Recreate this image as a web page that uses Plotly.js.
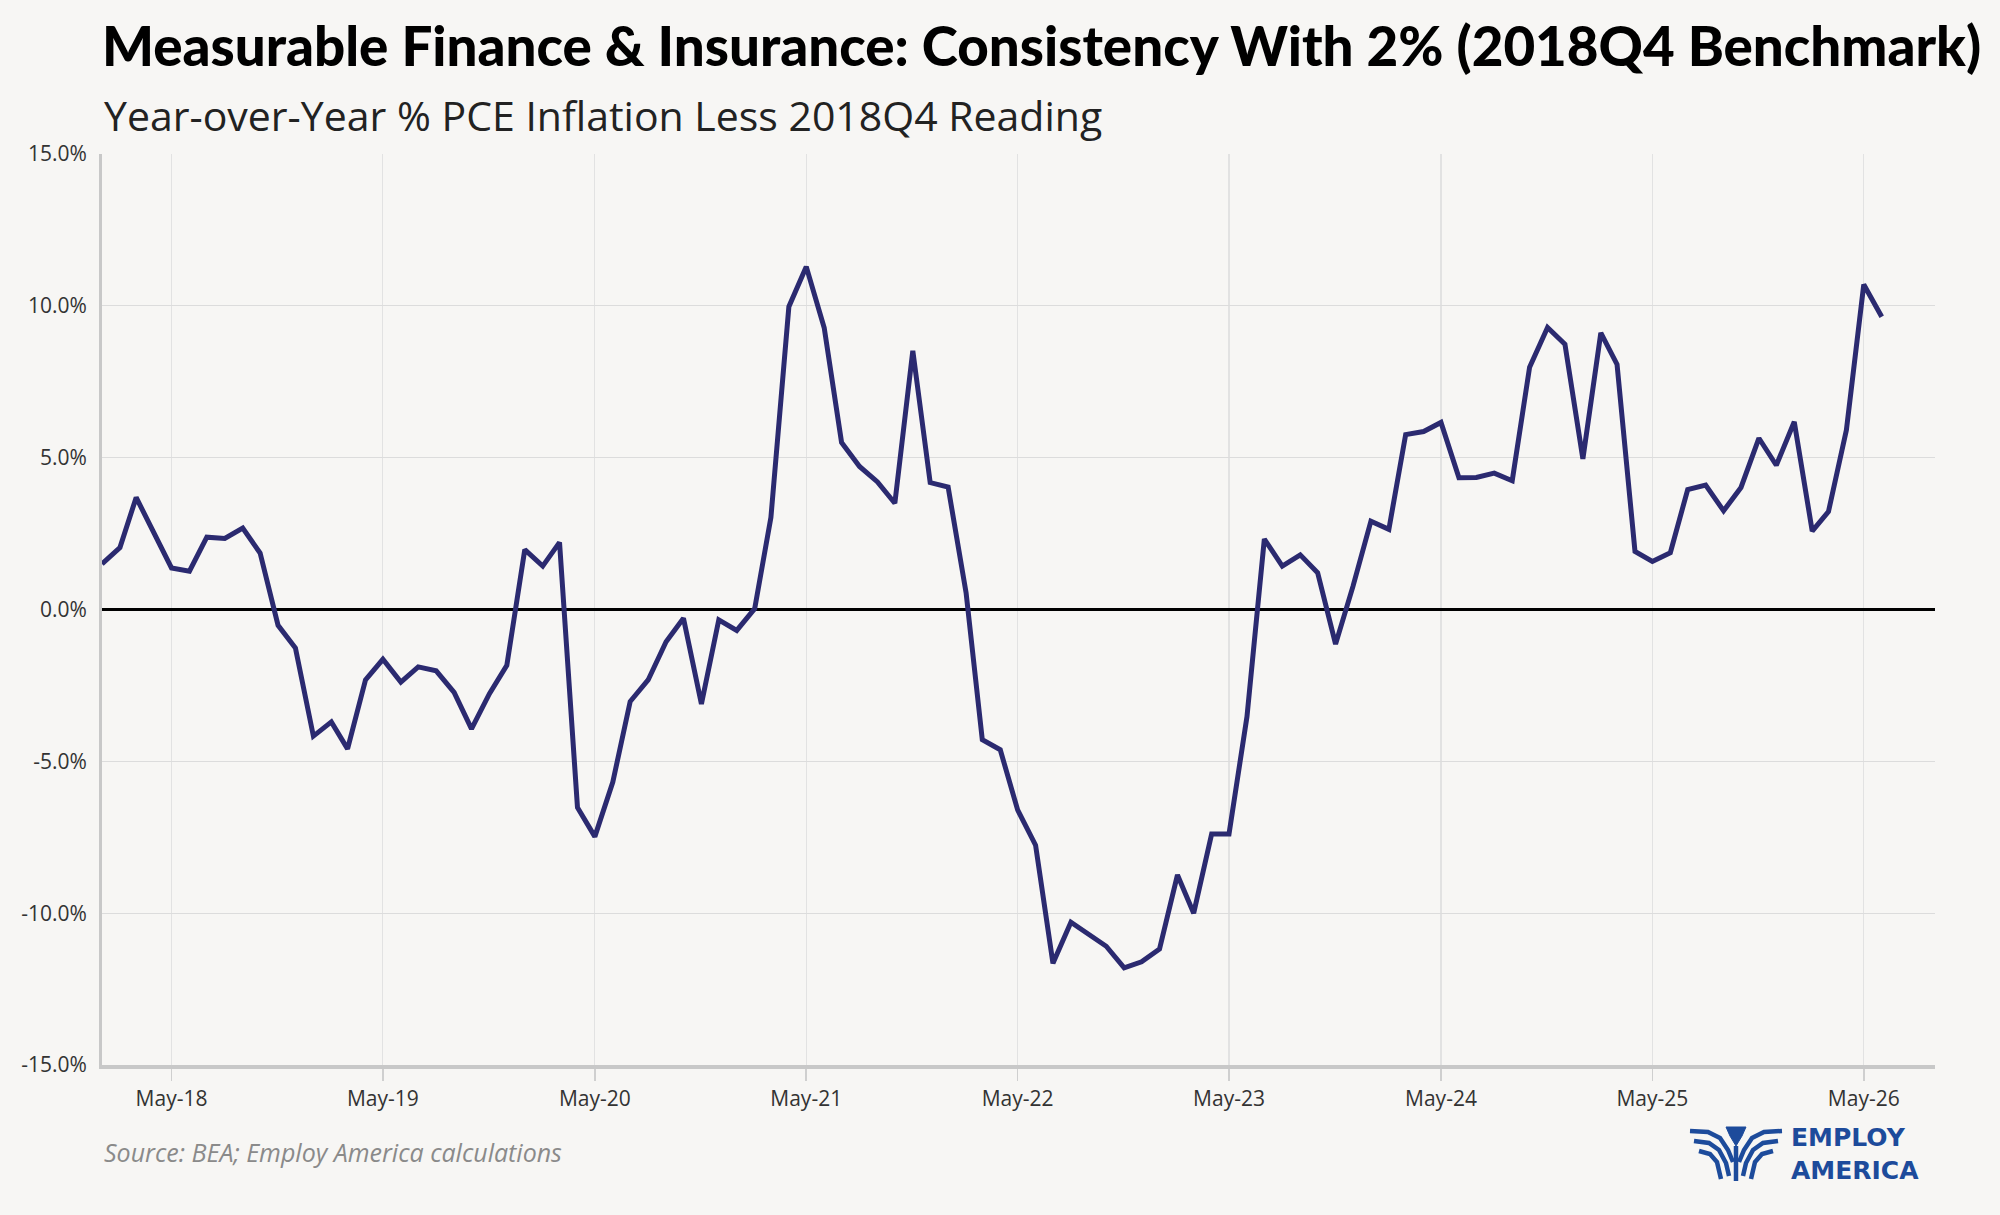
<!DOCTYPE html>
<html>
<head>
<meta charset="utf-8">
<script src="https://cdn.plot.ly/plotly-3.0.1.min.js"></script>
<style>
  html, body { margin: 0; padding: 0; background: #f7f6f4; }
  #chart { width: 2000px; height: 1215px; }
</style>
</head>
<body>
<div id="chart"></div>
<script>
// monthly readings, Jan-18 .. Jun-26 (percent)
const firstMonth = "2018-01";
const vals2018 = [1.50, 2.04, 3.69, 2.53, 1.37, 1.26, 2.38, 2.34, 2.68, 1.86, -0.52, -1.27];
const vals2019 = [-4.17, -3.70, -4.59, -2.32, -1.64, -2.39, -1.89, -2.02, -2.73, -3.93, -2.77, -1.84];
const vals2020 = [1.97, 1.43, 2.21, -6.52, -7.48, -5.68, -3.03, -2.32, -1.06, -0.29, -3.11, -0.34];
const vals2021 = [-0.69, 0.03, 3.03, 9.97, 11.29, 9.28, 5.50, 4.71, 4.20, 3.50, 8.52, 4.18];
const vals2022 = [4.03, 0.55, -4.29, -4.62, -6.60, -7.76, -11.65, -10.30, -10.70, -11.09, -11.80, -11.60];
const vals2023 = [-11.18, -8.74, -10.00, -7.39, -7.39, -3.53, 2.32, 1.43, 1.80, 1.21, -1.14, 0.76];
const vals2024 = [2.91, 2.64, 5.76, 5.86, 6.16, 4.34, 4.35, 4.49, 4.24, 7.98, 9.29, 8.74];
const vals2025 = [4.96, 9.11, 8.07, 1.91, 1.58, 1.87, 3.95, 4.10, 3.25, 4.02, 5.64, 4.75];
const vals2026 = [6.18, 2.58, 3.22, 5.91, 10.70, 9.64];

const yTickVals = [-15, -10, -5, 0, 5, 10, 15];
const yTickText = ["-15.0%", "-10.0%", "-5.0%", "0.0%", "5.0%", "10.0%", "15.0%"];

const titleText = "Measurable Finance & Insurance: Consistency With 2% (2018Q4 Benchmark)";
const subtitleText = "Year-over-Year % PCE Inflation Less 2018Q4 Reading";
const sourceText = "Source: BEA; Employ America calculations";
const logoText = "EMPLOY<br>AMERICA";

const lineColor = "#2b2a70";
const logoBlue = "#1d4b9b";

const values = [].concat(vals2018, vals2019, vals2020, vals2021, vals2022, vals2023, vals2024, vals2025, vals2026);

// month labels for each reading
const months = [];
let [yr, mo] = firstMonth.split("-").map(Number);
for (let i = 0; i < values.length; i++) {
    months.push(`${yr}-${String(mo).padStart(2, "0")}-01`);
    mo++;
    if (mo > 12) { mo = 1; yr++; }
}

// plot box in page pixels
const W = 2000, H = 1215;
const margin = {l: 102, r: 65, t: 154, b: 150};
const plotW = W - margin.l - margin.r;
const plotH = H - margin.t - margin.b;

const px = (x) => (x - margin.l) / plotW;
const py = (y) => (H - margin.b - y) / plotH;

const pathOf = (pts) => pts.map((p, i) => (i === 0 ? "M" : "L") + px(p[0]).toFixed(5) + "," + py(p[1]).toFixed(5)).join(" ");

// eagle mark, drawn as strokes
const wingStrokes = [
    [[1690, 1131], [1708, 1132], [1720, 1138], [1728, 1150], [1733, 1162]],
    [[1694, 1141], [1709, 1143], [1719, 1150], [1726, 1163], [1729, 1176]],
    [[1699, 1151], [1710, 1154], [1717, 1162], [1721, 1179]],
];
const logoShapes = [];
wingStrokes.forEach(s => {
    logoShapes.push({type: "path", xref: "paper", yref: "paper", path: pathOf(s),
        line: {color: logoBlue, width: 4.5}});
    const mirrored = s.map(p => [2 * 1736 - p[0], p[1]]);
    logoShapes.push({type: "path", xref: "paper", yref: "paper", path: pathOf(mirrored),
        line: {color: logoBlue, width: 4.5}});
});
logoShapes.push({type: "path", xref: "paper", yref: "paper",
    path: pathOf([[1726, 1127], [1746, 1127], [1742, 1136], [1736, 1146], [1730, 1136]]) + " Z",
    fillcolor: logoBlue, line: {color: logoBlue, width: 1}});
logoShapes.push({type: "path", xref: "paper", yref: "paper",
    path: pathOf([[1736, 1146], [1736, 1181]]),
    line: {color: logoBlue, width: 4.5}});

const trace = {
    x: months,
    y: values,
    type: "scatter",
    mode: "lines",
    line: {color: lineColor, width: 5},
    hoverinfo: "skip"
};

const layout = {
    width: W,
    height: H,
    margin: margin,
    paper_bgcolor: "#f7f6f4",
    plot_bgcolor: "#f7f6f4",
    showlegend: false,
    font: {family: "Open Sans, sans-serif", color: "#333"},
    title: {
        text: titleText,
        font: {family: "Lato, sans-serif", size: 54.7, color: "#000", weight: 900},
        x: 102 / W, xref: "container", xanchor: "left",
        y: 1 - 47 / H, yref: "container", yanchor: "middle"
    },
    xaxis: {
        type: "date",
        range: ["2018-01-01", "2026-09-01"],
        tick0: "2018-05-01",
        dtick: "M12",
        tickformat: "%b-%y",
        tickfont: {size: 21, color: "#333"},
        ticks: "outside",
        ticklen: 12,
        tickwidth: 1.5,
        tickcolor: "#cfcfcf",
        showgrid: true,
        gridcolor: "#e2e2e2",
        gridwidth: 1.2,
        showline: true,
        linecolor: "#c8c8c8",
        linewidth: 4,
        zeroline: false,
        fixedrange: true
    },
    yaxis: {
        range: [-15, 15],
        tickvals: yTickVals,
        ticktext: yTickText,
        tickfont: {size: 21, color: "#333"},
        ticks: "",
        ticklabelstandoff: 8,
        showgrid: true,
        gridcolor: "#dcdcdc",
        gridwidth: 1.2,
        showline: true,
        linecolor: "#c8c8c8",
        linewidth: 3,
        zeroline: true,
        zerolinecolor: "#000",
        zerolinewidth: 3,
        fixedrange: true
    },
    shapes: logoShapes,
    annotations: [
        {
            text: subtitleText, xref: "paper", yref: "paper",
            x: 0, y: py(115), xanchor: "left", yanchor: "middle", showarrow: false,
            font: {family: "Open Sans, sans-serif", size: 41, color: "#222"}
        },
        {
            text: "<i>" + sourceText + "</i>", xref: "paper", yref: "paper",
            x: 0, y: py(1152), xanchor: "left", yanchor: "middle", showarrow: false,
            font: {family: "Open Sans, sans-serif", size: 25, color: "#8a8a8a"}
        },
        {
            text: "<b>" + logoText.replace("<br>", "</b><br><b>") + "</b>", xref: "paper", yref: "paper",
            x: px(1789), y: py(1154), xanchor: "left", yanchor: "middle", align: "left", showarrow: false,
            font: {family: "DejaVu Sans, sans-serif", size: 25, color: logoBlue}
        }
    ]
};

const config = {staticPlot: true, responsive: false};

Plotly.newPlot("chart", [trace], layout, config);
</script>
</body>
</html>
